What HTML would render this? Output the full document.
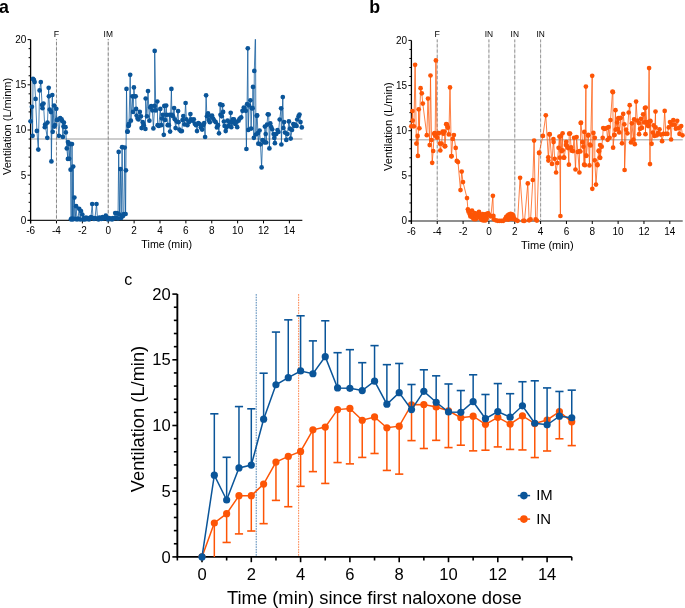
<!DOCTYPE html>
<html><head><meta charset="utf-8"><style>
html,body{margin:0;padding:0;background:#fff;width:685px;height:608px;overflow:hidden}
svg{display:block;will-change:transform}
</style></head><body>
<svg width="685" height="608" viewBox="0 0 685 608" font-family='"Liberation Sans", sans-serif' fill="#000">
<rect width="685" height="608" fill="#fff"/>
<text transform="translate(-1.1,13) scale(1,1.04)" font-size="17.8" font-weight="bold">a</text>
<text transform="translate(369.2,13) scale(1,1.04)" font-size="17.8" font-weight="bold">b</text>
<text transform="translate(124.2,284.6) scale(1,1.04)" font-size="16">c</text>
<g>
<line x1="30.6" y1="139.04" x2="302.34" y2="139.04" stroke="#bdbdbd" stroke-width="1.4"/>
<line x1="27.6" y1="220.4" x2="302.34" y2="220.4" stroke="#222" stroke-width="1.4"/>
<line x1="30.6" y1="39.6" x2="30.6" y2="223.4" stroke="#000" stroke-width="1.3"/>
<line x1="27.6" y1="220.4" x2="30.6" y2="220.4" stroke="#000" stroke-width="1"/>
<line x1="28.6" y1="211.36" x2="30.6" y2="211.36" stroke="#000" stroke-width="1"/>
<line x1="28.6" y1="202.32" x2="30.6" y2="202.32" stroke="#000" stroke-width="1"/>
<line x1="28.6" y1="193.28" x2="30.6" y2="193.28" stroke="#000" stroke-width="1"/>
<line x1="28.6" y1="184.24" x2="30.6" y2="184.24" stroke="#000" stroke-width="1"/>
<line x1="27.6" y1="175.2" x2="30.6" y2="175.2" stroke="#000" stroke-width="1"/>
<line x1="28.6" y1="166.16" x2="30.6" y2="166.16" stroke="#000" stroke-width="1"/>
<line x1="28.6" y1="157.12" x2="30.6" y2="157.12" stroke="#000" stroke-width="1"/>
<line x1="28.6" y1="148.08" x2="30.6" y2="148.08" stroke="#000" stroke-width="1"/>
<line x1="28.6" y1="139.04" x2="30.6" y2="139.04" stroke="#000" stroke-width="1"/>
<line x1="27.6" y1="130" x2="30.6" y2="130" stroke="#000" stroke-width="1"/>
<line x1="28.6" y1="120.96" x2="30.6" y2="120.96" stroke="#000" stroke-width="1"/>
<line x1="28.6" y1="111.92" x2="30.6" y2="111.92" stroke="#000" stroke-width="1"/>
<line x1="28.6" y1="102.88" x2="30.6" y2="102.88" stroke="#000" stroke-width="1"/>
<line x1="28.6" y1="93.84" x2="30.6" y2="93.84" stroke="#000" stroke-width="1"/>
<line x1="27.6" y1="84.8" x2="30.6" y2="84.8" stroke="#000" stroke-width="1"/>
<line x1="28.6" y1="75.76" x2="30.6" y2="75.76" stroke="#000" stroke-width="1"/>
<line x1="28.6" y1="66.72" x2="30.6" y2="66.72" stroke="#000" stroke-width="1"/>
<line x1="28.6" y1="57.68" x2="30.6" y2="57.68" stroke="#000" stroke-width="1"/>
<line x1="28.6" y1="48.64" x2="30.6" y2="48.64" stroke="#000" stroke-width="1"/>
<line x1="27.6" y1="39.6" x2="30.6" y2="39.6" stroke="#000" stroke-width="1"/>
<text transform="translate(26.3,223.8) scale(1,1.04)" text-anchor="end" font-size="10">0</text>
<text transform="translate(26.3,178.6) scale(1,1.04)" text-anchor="end" font-size="10">5</text>
<text transform="translate(26.3,133.4) scale(1,1.04)" text-anchor="end" font-size="10">10</text>
<text transform="translate(26.3,88.2) scale(1,1.04)" text-anchor="end" font-size="10">15</text>
<text transform="translate(26.3,43) scale(1,1.04)" text-anchor="end" font-size="10">20</text>
<line x1="30.6" y1="220.4" x2="30.6" y2="223.4" stroke="#000" stroke-width="1"/>
<text transform="translate(30.6,234) scale(1,1.04)" text-anchor="middle" font-size="10">-6</text>
<line x1="56.48" y1="220.4" x2="56.48" y2="223.4" stroke="#000" stroke-width="1"/>
<text transform="translate(56.48,234) scale(1,1.04)" text-anchor="middle" font-size="10">-4</text>
<line x1="82.36" y1="220.4" x2="82.36" y2="223.4" stroke="#000" stroke-width="1"/>
<text transform="translate(82.36,234) scale(1,1.04)" text-anchor="middle" font-size="10">-2</text>
<line x1="108.24" y1="220.4" x2="108.24" y2="223.4" stroke="#000" stroke-width="1"/>
<text transform="translate(108.24,234) scale(1,1.04)" text-anchor="middle" font-size="10">0</text>
<line x1="134.12" y1="220.4" x2="134.12" y2="223.4" stroke="#000" stroke-width="1"/>
<text transform="translate(134.12,234) scale(1,1.04)" text-anchor="middle" font-size="10">2</text>
<line x1="160" y1="220.4" x2="160" y2="223.4" stroke="#000" stroke-width="1"/>
<text transform="translate(160,234) scale(1,1.04)" text-anchor="middle" font-size="10">4</text>
<line x1="185.88" y1="220.4" x2="185.88" y2="223.4" stroke="#000" stroke-width="1"/>
<text transform="translate(185.88,234) scale(1,1.04)" text-anchor="middle" font-size="10">6</text>
<line x1="211.76" y1="220.4" x2="211.76" y2="223.4" stroke="#000" stroke-width="1"/>
<text transform="translate(211.76,234) scale(1,1.04)" text-anchor="middle" font-size="10">8</text>
<line x1="237.64" y1="220.4" x2="237.64" y2="223.4" stroke="#000" stroke-width="1"/>
<text transform="translate(237.64,234) scale(1,1.04)" text-anchor="middle" font-size="10">10</text>
<line x1="263.52" y1="220.4" x2="263.52" y2="223.4" stroke="#000" stroke-width="1"/>
<text transform="translate(263.52,234) scale(1,1.04)" text-anchor="middle" font-size="10">12</text>
<line x1="289.4" y1="220.4" x2="289.4" y2="223.4" stroke="#000" stroke-width="1"/>
<text transform="translate(289.4,234) scale(1,1.04)" text-anchor="middle" font-size="10">14</text>
<line x1="56.48" y1="39" x2="56.48" y2="220.4" stroke="#dadada" stroke-width="1"/>
<line x1="56.48" y1="39" x2="56.48" y2="220.4" stroke="#8a8a8a" stroke-width="1" stroke-dasharray="3.2,2.05" stroke-dashoffset="2.2"/>
<text transform="translate(56.48,37.4) scale(1,1.04)" text-anchor="middle" font-size="8.8">F</text>
<line x1="108.24" y1="39" x2="108.24" y2="220.4" stroke="#dadada" stroke-width="1"/>
<line x1="108.24" y1="39" x2="108.24" y2="220.4" stroke="#8a8a8a" stroke-width="1" stroke-dasharray="3.2,2.05" stroke-dashoffset="2.2"/>
<text transform="translate(108.24,37) scale(1,1.04)" text-anchor="middle" font-size="8.4">IM</text>
<text transform="translate(166.7,248) scale(1,1.04)" text-anchor="middle" font-size="10.7">Time (min)</text>
<text transform="translate(10.6,126.5) rotate(-90) scale(1,1.04)" text-anchor="middle" font-size="11">Ventilation (L/minm)</text>
<clipPath id="ca"><rect x="0" y="39.2" width="340" height="200"/></clipPath>
<polyline clip-path="url(#ca)" points="30.6,121.3 31.9,106.8 32.6,135.8 33,78.9 33.9,79.9 34.6,82.1 35.6,98.9 36.9,130.9 38.3,149.6 39.6,90.4 40.8,82.1 42.1,104.9 42.5,108.2 43.5,103.6 44.8,127.2 45.1,124.6 47.3,137.8 47.5,122.6 48.7,87.8 48.9,96.3 49.7,109.5 51,112.1 51.4,161.4 52.3,95 52.7,131.8 54.1,105.5 54.3,126.6 55,125 56.3,108.8 56.9,120 57.8,119.7 58.9,135.8 60.2,118 61.6,119.3 62.2,121 62.9,136.9 63.5,126.6 63.9,122.6 64.6,126.9 65.5,127.2 65.8,132.4 66.8,148.4 67.9,158.9 68,142.1 68.9,144.1 69.2,158.8 70.4,143.9 70.6,169.7 70.9,219.3 71.6,218.6 72,144.1 72.6,219.5 73.2,166.6 73.8,218.8 74.4,197.6 75.2,219 76.1,206.2 77,219.5 78,218.5 79.2,208.8 80.2,219.5 81,211 82.3,214.5 83.2,219.5 84,218 85,219.5 86,217.5 87,219 88,218 89,219.5 90,218.5 91,217 92.2,204 93,218 94,219 95,218 96.5,204 97.5,218.5 98.5,219.5 99.5,217.5 100.5,218.5 101.5,219 102.5,217 103.5,218.5 104.5,217.5 105.8,215.7 107,218.5 108,219.5 109,218 110,219 111,218.5 112,219.5 113,218 114,218.5 115.2,213.1 116,218 117,213.1 118,218.5 118.7,151.9 119.5,214.5 120.4,169.1 121.2,218 122.1,147.2 123,216 123.9,214 124.7,147.6 125.6,214 125.9,170.3 126.5,88.9 127.3,131.7 127.7,131.6 128.5,126 128.7,125.2 129,123.8 130.2,74.8 130.9,120.7 132.4,96.3 133.1,111.9 133.9,87.4 134.6,96.3 135.7,96.3 136.1,108.9 136.6,115.6 137.6,118.5 138.5,119.5 139.8,111.9 141,116.3 141.6,128.1 142.8,122.2 143.8,125.2 145.4,128.9 145.7,98.5 146.9,116.3 148,91.1 149.4,120.7 150.2,107.4 151.2,106 152.4,110.4 153.4,128.4 154.6,105.9 154.7,50.9 155.8,110.4 157.3,101.5 157.6,125.2 158.8,125.9 160.3,108.9 161.2,125.2 162,118.5 162.9,114.8 163.8,134.8 164.3,105.9 165.2,120 166.2,105.6 166.7,114.8 167.7,125.2 168.9,125.2 169.6,114.8 170.1,131.6 171.4,88.9 171.9,114.8 173,116.3 174.1,108.1 174.8,119.3 175.6,128.1 176.6,121.5 178.1,111.1 178.5,122.2 179.3,129.6 180.7,131.1 181.9,131.1 182.5,120 183.3,116 184.4,124.4 185.6,103 186.4,119.3 187.4,125.2 188.9,122.2 190.4,114.1 191.1,119.3 192.3,120.7 193.8,119.3 194.8,123.7 196,125.2 197,131.1 198.4,123 199.7,124 200.9,127.4 202.1,129.6 203.1,125.2 204.2,123 205.1,137 206.1,95.3 206.9,116.3 208,113.3 208.6,120 209.8,122.2 211,116.3 212,115.6 213.1,118.5 214.3,120.7 215.7,122.2 216.9,127.4 218,125.2 219,133.3 220.2,104.4 220.5,114.8 221.7,116.3 222.4,105.2 223.1,111.9 223.9,121.5 224.6,125.9 225.7,131.1 226.4,127.4 227.6,120.7 228.8,125.9 229.8,122.2 230.7,112.8 231.3,127.2 232,122.6 232.8,119.3 233.9,119.3 235.2,124 236.2,122 237.2,127.2 238.6,120.7 239.7,118.5 241.2,117.4 242.5,110.8 243.8,107.5 244.5,108 245.8,110.8 246.4,149 247.1,104.2 247.8,48.3 248.3,129.9 249.1,105.5 250.4,100.3 251.1,128.6 251.8,108.3 252.6,108.2 253,86.9 253.9,137.8 254.3,70.9 255.5,30 255.9,134.5 256.7,115.7 257.2,115.4 257.9,133.2 258.3,143.7 259.6,130.5 260.5,144.3 261.6,167.4 262.6,140 263.6,141.1 264.5,142.4 264.9,126.6 265.7,134 266.2,142.5 267,124.7 267.8,114.3 268.7,114.5 269.4,148.4 270.3,123.4 271.2,127 272.2,129.3 273.6,134 274.3,137.9 274.9,143.2 276.2,134 277.5,130 278.5,132 279.7,119.5 281.1,108.3 281.4,144.5 282.8,97.1 283.4,128 284.1,122.1 285,132.6 286.3,139.9 287.4,134 288.9,121.4 290,128.7 290.7,138.6 292,130 293.3,124.1 294.3,126 295.3,124.7 296.6,126 297.2,119.5 298.6,116.2 299.5,114.5 300.5,122.1 301.8,127.4" fill="none" stroke="#0a5599" stroke-width="0.75" stroke-linejoin="round"/>
<g clip-path="url(#ca)" fill="#0a5599"><circle cx="30.6" cy="121.3" r="2.35"/><circle cx="31.9" cy="106.8" r="2.35"/><circle cx="32.6" cy="135.8" r="2.35"/><circle cx="33" cy="78.9" r="2.35"/><circle cx="33.9" cy="79.9" r="2.35"/><circle cx="34.6" cy="82.1" r="2.35"/><circle cx="35.6" cy="98.9" r="2.35"/><circle cx="36.9" cy="130.9" r="2.35"/><circle cx="38.3" cy="149.6" r="2.35"/><circle cx="39.6" cy="90.4" r="2.35"/><circle cx="40.8" cy="82.1" r="2.35"/><circle cx="42.1" cy="104.9" r="2.35"/><circle cx="42.5" cy="108.2" r="2.35"/><circle cx="43.5" cy="103.6" r="2.35"/><circle cx="44.8" cy="127.2" r="2.35"/><circle cx="45.1" cy="124.6" r="2.35"/><circle cx="47.3" cy="137.8" r="2.35"/><circle cx="47.5" cy="122.6" r="2.35"/><circle cx="48.7" cy="87.8" r="2.35"/><circle cx="48.9" cy="96.3" r="2.35"/><circle cx="49.7" cy="109.5" r="2.35"/><circle cx="51" cy="112.1" r="2.35"/><circle cx="51.4" cy="161.4" r="2.35"/><circle cx="52.3" cy="95" r="2.35"/><circle cx="52.7" cy="131.8" r="2.35"/><circle cx="54.1" cy="105.5" r="2.35"/><circle cx="54.3" cy="126.6" r="2.35"/><circle cx="55" cy="125" r="2.35"/><circle cx="56.3" cy="108.8" r="2.35"/><circle cx="56.9" cy="120" r="2.35"/><circle cx="57.8" cy="119.7" r="2.35"/><circle cx="58.9" cy="135.8" r="2.35"/><circle cx="60.2" cy="118" r="2.35"/><circle cx="61.6" cy="119.3" r="2.35"/><circle cx="62.2" cy="121" r="2.35"/><circle cx="62.9" cy="136.9" r="2.35"/><circle cx="63.5" cy="126.6" r="2.35"/><circle cx="63.9" cy="122.6" r="2.35"/><circle cx="64.6" cy="126.9" r="2.35"/><circle cx="65.5" cy="127.2" r="2.35"/><circle cx="65.8" cy="132.4" r="2.35"/><circle cx="66.8" cy="148.4" r="2.35"/><circle cx="67.9" cy="158.9" r="2.35"/><circle cx="68" cy="142.1" r="2.35"/><circle cx="68.9" cy="144.1" r="2.35"/><circle cx="69.2" cy="158.8" r="2.35"/><circle cx="70.4" cy="143.9" r="2.35"/><circle cx="70.6" cy="169.7" r="2.35"/><circle cx="70.9" cy="219.3" r="2.35"/><circle cx="71.6" cy="218.6" r="2.35"/><circle cx="72" cy="144.1" r="2.35"/><circle cx="72.6" cy="219.5" r="2.35"/><circle cx="73.2" cy="166.6" r="2.35"/><circle cx="73.8" cy="218.8" r="2.35"/><circle cx="74.4" cy="197.6" r="2.35"/><circle cx="75.2" cy="219" r="2.35"/><circle cx="76.1" cy="206.2" r="2.35"/><circle cx="77" cy="219.5" r="2.35"/><circle cx="78" cy="218.5" r="2.35"/><circle cx="79.2" cy="208.8" r="2.35"/><circle cx="80.2" cy="219.5" r="2.35"/><circle cx="81" cy="211" r="2.35"/><circle cx="82.3" cy="214.5" r="2.35"/><circle cx="83.2" cy="219.5" r="2.35"/><circle cx="84" cy="218" r="2.35"/><circle cx="85" cy="219.5" r="2.35"/><circle cx="86" cy="217.5" r="2.35"/><circle cx="87" cy="219" r="2.35"/><circle cx="88" cy="218" r="2.35"/><circle cx="89" cy="219.5" r="2.35"/><circle cx="90" cy="218.5" r="2.35"/><circle cx="91" cy="217" r="2.35"/><circle cx="92.2" cy="204" r="2.35"/><circle cx="93" cy="218" r="2.35"/><circle cx="94" cy="219" r="2.35"/><circle cx="95" cy="218" r="2.35"/><circle cx="96.5" cy="204" r="2.35"/><circle cx="97.5" cy="218.5" r="2.35"/><circle cx="98.5" cy="219.5" r="2.35"/><circle cx="99.5" cy="217.5" r="2.35"/><circle cx="100.5" cy="218.5" r="2.35"/><circle cx="101.5" cy="219" r="2.35"/><circle cx="102.5" cy="217" r="2.35"/><circle cx="103.5" cy="218.5" r="2.35"/><circle cx="104.5" cy="217.5" r="2.35"/><circle cx="105.8" cy="215.7" r="2.35"/><circle cx="107" cy="218.5" r="2.35"/><circle cx="108" cy="219.5" r="2.35"/><circle cx="109" cy="218" r="2.35"/><circle cx="110" cy="219" r="2.35"/><circle cx="111" cy="218.5" r="2.35"/><circle cx="112" cy="219.5" r="2.35"/><circle cx="113" cy="218" r="2.35"/><circle cx="114" cy="218.5" r="2.35"/><circle cx="115.2" cy="213.1" r="2.35"/><circle cx="116" cy="218" r="2.35"/><circle cx="117" cy="213.1" r="2.35"/><circle cx="118" cy="218.5" r="2.35"/><circle cx="118.7" cy="151.9" r="2.35"/><circle cx="119.5" cy="214.5" r="2.35"/><circle cx="120.4" cy="169.1" r="2.35"/><circle cx="121.2" cy="218" r="2.35"/><circle cx="122.1" cy="147.2" r="2.35"/><circle cx="123" cy="216" r="2.35"/><circle cx="123.9" cy="214" r="2.35"/><circle cx="124.7" cy="147.6" r="2.35"/><circle cx="125.6" cy="214" r="2.35"/><circle cx="125.9" cy="170.3" r="2.35"/><circle cx="126.5" cy="88.9" r="2.35"/><circle cx="127.3" cy="131.7" r="2.35"/><circle cx="127.7" cy="131.6" r="2.35"/><circle cx="128.5" cy="126" r="2.35"/><circle cx="128.7" cy="125.2" r="2.35"/><circle cx="129" cy="123.8" r="2.35"/><circle cx="130.2" cy="74.8" r="2.35"/><circle cx="130.9" cy="120.7" r="2.35"/><circle cx="132.4" cy="96.3" r="2.35"/><circle cx="133.1" cy="111.9" r="2.35"/><circle cx="133.9" cy="87.4" r="2.35"/><circle cx="134.6" cy="96.3" r="2.35"/><circle cx="135.7" cy="96.3" r="2.35"/><circle cx="136.1" cy="108.9" r="2.35"/><circle cx="136.6" cy="115.6" r="2.35"/><circle cx="137.6" cy="118.5" r="2.35"/><circle cx="138.5" cy="119.5" r="2.35"/><circle cx="139.8" cy="111.9" r="2.35"/><circle cx="141" cy="116.3" r="2.35"/><circle cx="141.6" cy="128.1" r="2.35"/><circle cx="142.8" cy="122.2" r="2.35"/><circle cx="143.8" cy="125.2" r="2.35"/><circle cx="145.4" cy="128.9" r="2.35"/><circle cx="145.7" cy="98.5" r="2.35"/><circle cx="146.9" cy="116.3" r="2.35"/><circle cx="148" cy="91.1" r="2.35"/><circle cx="149.4" cy="120.7" r="2.35"/><circle cx="150.2" cy="107.4" r="2.35"/><circle cx="151.2" cy="106" r="2.35"/><circle cx="152.4" cy="110.4" r="2.35"/><circle cx="153.4" cy="128.4" r="2.35"/><circle cx="154.6" cy="105.9" r="2.35"/><circle cx="154.7" cy="50.9" r="2.35"/><circle cx="155.8" cy="110.4" r="2.35"/><circle cx="157.3" cy="101.5" r="2.35"/><circle cx="157.6" cy="125.2" r="2.35"/><circle cx="158.8" cy="125.9" r="2.35"/><circle cx="160.3" cy="108.9" r="2.35"/><circle cx="161.2" cy="125.2" r="2.35"/><circle cx="162" cy="118.5" r="2.35"/><circle cx="162.9" cy="114.8" r="2.35"/><circle cx="163.8" cy="134.8" r="2.35"/><circle cx="164.3" cy="105.9" r="2.35"/><circle cx="165.2" cy="120" r="2.35"/><circle cx="166.2" cy="105.6" r="2.35"/><circle cx="166.7" cy="114.8" r="2.35"/><circle cx="167.7" cy="125.2" r="2.35"/><circle cx="168.9" cy="125.2" r="2.35"/><circle cx="169.6" cy="114.8" r="2.35"/><circle cx="170.1" cy="131.6" r="2.35"/><circle cx="171.4" cy="88.9" r="2.35"/><circle cx="171.9" cy="114.8" r="2.35"/><circle cx="173" cy="116.3" r="2.35"/><circle cx="174.1" cy="108.1" r="2.35"/><circle cx="174.8" cy="119.3" r="2.35"/><circle cx="175.6" cy="128.1" r="2.35"/><circle cx="176.6" cy="121.5" r="2.35"/><circle cx="178.1" cy="111.1" r="2.35"/><circle cx="178.5" cy="122.2" r="2.35"/><circle cx="179.3" cy="129.6" r="2.35"/><circle cx="180.7" cy="131.1" r="2.35"/><circle cx="181.9" cy="131.1" r="2.35"/><circle cx="182.5" cy="120" r="2.35"/><circle cx="183.3" cy="116" r="2.35"/><circle cx="184.4" cy="124.4" r="2.35"/><circle cx="185.6" cy="103" r="2.35"/><circle cx="186.4" cy="119.3" r="2.35"/><circle cx="187.4" cy="125.2" r="2.35"/><circle cx="188.9" cy="122.2" r="2.35"/><circle cx="190.4" cy="114.1" r="2.35"/><circle cx="191.1" cy="119.3" r="2.35"/><circle cx="192.3" cy="120.7" r="2.35"/><circle cx="193.8" cy="119.3" r="2.35"/><circle cx="194.8" cy="123.7" r="2.35"/><circle cx="196" cy="125.2" r="2.35"/><circle cx="197" cy="131.1" r="2.35"/><circle cx="198.4" cy="123" r="2.35"/><circle cx="199.7" cy="124" r="2.35"/><circle cx="200.9" cy="127.4" r="2.35"/><circle cx="202.1" cy="129.6" r="2.35"/><circle cx="203.1" cy="125.2" r="2.35"/><circle cx="204.2" cy="123" r="2.35"/><circle cx="205.1" cy="137" r="2.35"/><circle cx="206.1" cy="95.3" r="2.35"/><circle cx="206.9" cy="116.3" r="2.35"/><circle cx="208" cy="113.3" r="2.35"/><circle cx="208.6" cy="120" r="2.35"/><circle cx="209.8" cy="122.2" r="2.35"/><circle cx="211" cy="116.3" r="2.35"/><circle cx="212" cy="115.6" r="2.35"/><circle cx="213.1" cy="118.5" r="2.35"/><circle cx="214.3" cy="120.7" r="2.35"/><circle cx="215.7" cy="122.2" r="2.35"/><circle cx="216.9" cy="127.4" r="2.35"/><circle cx="218" cy="125.2" r="2.35"/><circle cx="219" cy="133.3" r="2.35"/><circle cx="220.2" cy="104.4" r="2.35"/><circle cx="220.5" cy="114.8" r="2.35"/><circle cx="221.7" cy="116.3" r="2.35"/><circle cx="222.4" cy="105.2" r="2.35"/><circle cx="223.1" cy="111.9" r="2.35"/><circle cx="223.9" cy="121.5" r="2.35"/><circle cx="224.6" cy="125.9" r="2.35"/><circle cx="225.7" cy="131.1" r="2.35"/><circle cx="226.4" cy="127.4" r="2.35"/><circle cx="227.6" cy="120.7" r="2.35"/><circle cx="228.8" cy="125.9" r="2.35"/><circle cx="229.8" cy="122.2" r="2.35"/><circle cx="230.7" cy="112.8" r="2.35"/><circle cx="231.3" cy="127.2" r="2.35"/><circle cx="232" cy="122.6" r="2.35"/><circle cx="232.8" cy="119.3" r="2.35"/><circle cx="233.9" cy="119.3" r="2.35"/><circle cx="235.2" cy="124" r="2.35"/><circle cx="236.2" cy="122" r="2.35"/><circle cx="237.2" cy="127.2" r="2.35"/><circle cx="238.6" cy="120.7" r="2.35"/><circle cx="239.7" cy="118.5" r="2.35"/><circle cx="241.2" cy="117.4" r="2.35"/><circle cx="242.5" cy="110.8" r="2.35"/><circle cx="243.8" cy="107.5" r="2.35"/><circle cx="244.5" cy="108" r="2.35"/><circle cx="245.8" cy="110.8" r="2.35"/><circle cx="246.4" cy="149" r="2.35"/><circle cx="247.1" cy="104.2" r="2.35"/><circle cx="247.8" cy="48.3" r="2.35"/><circle cx="248.3" cy="129.9" r="2.35"/><circle cx="249.1" cy="105.5" r="2.35"/><circle cx="250.4" cy="100.3" r="2.35"/><circle cx="251.1" cy="128.6" r="2.35"/><circle cx="251.8" cy="108.3" r="2.35"/><circle cx="252.6" cy="108.2" r="2.35"/><circle cx="253" cy="86.9" r="2.35"/><circle cx="253.9" cy="137.8" r="2.35"/><circle cx="254.3" cy="70.9" r="2.35"/><circle cx="255.5" cy="30" r="2.35"/><circle cx="255.9" cy="134.5" r="2.35"/><circle cx="256.7" cy="115.7" r="2.35"/><circle cx="257.2" cy="115.4" r="2.35"/><circle cx="257.9" cy="133.2" r="2.35"/><circle cx="258.3" cy="143.7" r="2.35"/><circle cx="259.6" cy="130.5" r="2.35"/><circle cx="260.5" cy="144.3" r="2.35"/><circle cx="261.6" cy="167.4" r="2.35"/><circle cx="262.6" cy="140" r="2.35"/><circle cx="263.6" cy="141.1" r="2.35"/><circle cx="264.5" cy="142.4" r="2.35"/><circle cx="264.9" cy="126.6" r="2.35"/><circle cx="265.7" cy="134" r="2.35"/><circle cx="266.2" cy="142.5" r="2.35"/><circle cx="267" cy="124.7" r="2.35"/><circle cx="267.8" cy="114.3" r="2.35"/><circle cx="268.7" cy="114.5" r="2.35"/><circle cx="269.4" cy="148.4" r="2.35"/><circle cx="270.3" cy="123.4" r="2.35"/><circle cx="271.2" cy="127" r="2.35"/><circle cx="272.2" cy="129.3" r="2.35"/><circle cx="273.6" cy="134" r="2.35"/><circle cx="274.3" cy="137.9" r="2.35"/><circle cx="274.9" cy="143.2" r="2.35"/><circle cx="276.2" cy="134" r="2.35"/><circle cx="277.5" cy="130" r="2.35"/><circle cx="278.5" cy="132" r="2.35"/><circle cx="279.7" cy="119.5" r="2.35"/><circle cx="281.1" cy="108.3" r="2.35"/><circle cx="281.4" cy="144.5" r="2.35"/><circle cx="282.8" cy="97.1" r="2.35"/><circle cx="283.4" cy="128" r="2.35"/><circle cx="284.1" cy="122.1" r="2.35"/><circle cx="285" cy="132.6" r="2.35"/><circle cx="286.3" cy="139.9" r="2.35"/><circle cx="287.4" cy="134" r="2.35"/><circle cx="288.9" cy="121.4" r="2.35"/><circle cx="290" cy="128.7" r="2.35"/><circle cx="290.7" cy="138.6" r="2.35"/><circle cx="292" cy="130" r="2.35"/><circle cx="293.3" cy="124.1" r="2.35"/><circle cx="294.3" cy="126" r="2.35"/><circle cx="295.3" cy="124.7" r="2.35"/><circle cx="296.6" cy="126" r="2.35"/><circle cx="297.2" cy="119.5" r="2.35"/><circle cx="298.6" cy="116.2" r="2.35"/><circle cx="299.5" cy="114.5" r="2.35"/><circle cx="300.5" cy="122.1" r="2.35"/><circle cx="301.8" cy="127.4" r="2.35"/></g>
</g>
<g>
<line x1="411.4" y1="139.73" x2="682.72" y2="139.73" stroke="#bdbdbd" stroke-width="1.4"/>
<line x1="408.4" y1="221" x2="682.72" y2="221" stroke="#6a6a6a" stroke-width="1.4"/>
<line x1="411.4" y1="40.4" x2="411.4" y2="224" stroke="#000" stroke-width="1.3"/>
<line x1="408.4" y1="221" x2="411.4" y2="221" stroke="#000" stroke-width="1"/>
<line x1="409.4" y1="211.97" x2="411.4" y2="211.97" stroke="#000" stroke-width="1"/>
<line x1="409.4" y1="202.94" x2="411.4" y2="202.94" stroke="#000" stroke-width="1"/>
<line x1="409.4" y1="193.91" x2="411.4" y2="193.91" stroke="#000" stroke-width="1"/>
<line x1="409.4" y1="184.88" x2="411.4" y2="184.88" stroke="#000" stroke-width="1"/>
<line x1="408.4" y1="175.85" x2="411.4" y2="175.85" stroke="#000" stroke-width="1"/>
<line x1="409.4" y1="166.82" x2="411.4" y2="166.82" stroke="#000" stroke-width="1"/>
<line x1="409.4" y1="157.79" x2="411.4" y2="157.79" stroke="#000" stroke-width="1"/>
<line x1="409.4" y1="148.76" x2="411.4" y2="148.76" stroke="#000" stroke-width="1"/>
<line x1="409.4" y1="139.73" x2="411.4" y2="139.73" stroke="#000" stroke-width="1"/>
<line x1="408.4" y1="130.7" x2="411.4" y2="130.7" stroke="#000" stroke-width="1"/>
<line x1="409.4" y1="121.67" x2="411.4" y2="121.67" stroke="#000" stroke-width="1"/>
<line x1="409.4" y1="112.64" x2="411.4" y2="112.64" stroke="#000" stroke-width="1"/>
<line x1="409.4" y1="103.61" x2="411.4" y2="103.61" stroke="#000" stroke-width="1"/>
<line x1="409.4" y1="94.58" x2="411.4" y2="94.58" stroke="#000" stroke-width="1"/>
<line x1="408.4" y1="85.55" x2="411.4" y2="85.55" stroke="#000" stroke-width="1"/>
<line x1="409.4" y1="76.52" x2="411.4" y2="76.52" stroke="#000" stroke-width="1"/>
<line x1="409.4" y1="67.49" x2="411.4" y2="67.49" stroke="#000" stroke-width="1"/>
<line x1="409.4" y1="58.46" x2="411.4" y2="58.46" stroke="#000" stroke-width="1"/>
<line x1="409.4" y1="49.43" x2="411.4" y2="49.43" stroke="#000" stroke-width="1"/>
<line x1="408.4" y1="40.4" x2="411.4" y2="40.4" stroke="#000" stroke-width="1"/>
<text transform="translate(407.1,224.4) scale(1,1.04)" text-anchor="end" font-size="10">0</text>
<text transform="translate(407.1,179.25) scale(1,1.04)" text-anchor="end" font-size="10">5</text>
<text transform="translate(407.1,134.1) scale(1,1.04)" text-anchor="end" font-size="10">10</text>
<text transform="translate(407.1,88.95) scale(1,1.04)" text-anchor="end" font-size="10">15</text>
<text transform="translate(407.1,43.8) scale(1,1.04)" text-anchor="end" font-size="10">20</text>
<line x1="411.4" y1="221" x2="411.4" y2="224" stroke="#000" stroke-width="1"/>
<text transform="translate(411.4,234.6) scale(1,1.04)" text-anchor="middle" font-size="10">-6</text>
<line x1="437.24" y1="221" x2="437.24" y2="224" stroke="#000" stroke-width="1"/>
<text transform="translate(437.24,234.6) scale(1,1.04)" text-anchor="middle" font-size="10">-4</text>
<line x1="463.08" y1="221" x2="463.08" y2="224" stroke="#000" stroke-width="1"/>
<text transform="translate(463.08,234.6) scale(1,1.04)" text-anchor="middle" font-size="10">-2</text>
<line x1="488.92" y1="221" x2="488.92" y2="224" stroke="#000" stroke-width="1"/>
<text transform="translate(488.92,234.6) scale(1,1.04)" text-anchor="middle" font-size="10">0</text>
<line x1="514.76" y1="221" x2="514.76" y2="224" stroke="#000" stroke-width="1"/>
<text transform="translate(514.76,234.6) scale(1,1.04)" text-anchor="middle" font-size="10">2</text>
<line x1="540.6" y1="221" x2="540.6" y2="224" stroke="#000" stroke-width="1"/>
<text transform="translate(540.6,234.6) scale(1,1.04)" text-anchor="middle" font-size="10">4</text>
<line x1="566.44" y1="221" x2="566.44" y2="224" stroke="#000" stroke-width="1"/>
<text transform="translate(566.44,234.6) scale(1,1.04)" text-anchor="middle" font-size="10">6</text>
<line x1="592.28" y1="221" x2="592.28" y2="224" stroke="#000" stroke-width="1"/>
<text transform="translate(592.28,234.6) scale(1,1.04)" text-anchor="middle" font-size="10">8</text>
<line x1="618.12" y1="221" x2="618.12" y2="224" stroke="#000" stroke-width="1"/>
<text transform="translate(618.12,234.6) scale(1,1.04)" text-anchor="middle" font-size="10">10</text>
<line x1="643.96" y1="221" x2="643.96" y2="224" stroke="#000" stroke-width="1"/>
<text transform="translate(643.96,234.6) scale(1,1.04)" text-anchor="middle" font-size="10">12</text>
<line x1="669.8" y1="221" x2="669.8" y2="224" stroke="#000" stroke-width="1"/>
<text transform="translate(669.8,234.6) scale(1,1.04)" text-anchor="middle" font-size="10">14</text>
<line x1="437.24" y1="39.5" x2="437.24" y2="221" stroke="#dadada" stroke-width="1"/>
<line x1="437.24" y1="39.5" x2="437.24" y2="221" stroke="#999" stroke-width="1" stroke-dasharray="3.2,2.1" stroke-dashoffset="0.6"/>
<text transform="translate(437.24,37.4) scale(1,1.04)" text-anchor="middle" font-size="8.8">F</text>
<line x1="488.92" y1="39.5" x2="488.92" y2="221" stroke="#dadada" stroke-width="1"/>
<line x1="488.92" y1="39.5" x2="488.92" y2="221" stroke="#999" stroke-width="1" stroke-dasharray="3.2,2.1" stroke-dashoffset="0.6"/>
<text transform="translate(488.92,37) scale(1,1.04)" text-anchor="middle" font-size="8.4">IN</text>
<line x1="514.76" y1="39.5" x2="514.76" y2="221" stroke="#dadada" stroke-width="1"/>
<line x1="514.76" y1="39.5" x2="514.76" y2="221" stroke="#999" stroke-width="1" stroke-dasharray="3.2,2.1" stroke-dashoffset="0.6"/>
<text transform="translate(514.76,37) scale(1,1.04)" text-anchor="middle" font-size="8.4">IN</text>
<line x1="540.6" y1="39.5" x2="540.6" y2="221" stroke="#dadada" stroke-width="1"/>
<line x1="540.6" y1="39.5" x2="540.6" y2="221" stroke="#999" stroke-width="1" stroke-dasharray="3.2,2.1" stroke-dashoffset="0.6"/>
<text transform="translate(540.6,37) scale(1,1.04)" text-anchor="middle" font-size="8.4">IN</text>
<text transform="translate(547.4,249.2) scale(1,1.04)" text-anchor="middle" font-size="11.1">Time (min)</text>
<text transform="translate(391.5,126.6) rotate(-90) scale(1,1.04)" text-anchor="middle" font-size="11.1">Ventilation (L/min)</text>
<clipPath id="cb"><rect x="380" y="40" width="310" height="200"/></clipPath>
<polyline clip-path="url(#cb)" points="411.3,126.3 412.4,111 412.7,120.6 413.9,126.3 415.1,64.8 416.4,143.6 417.6,135.9 417.9,155.9 418.7,109.3 419.4,128.3 420.6,88.2 421.8,93.3 422.8,103.6 426.8,135.2 428,98.6 429.7,145.1 430.5,75.5 431.5,140 432.2,162.8 433.2,151 434.2,133.7 434.7,133.2 435.2,135.7 435.9,60.4 437.1,137.7 438.4,133 438.9,133.2 439.8,143.6 440.3,150.5 441.6,143.6 442.6,131.7 443.3,133.7 444.5,131.6 444.7,146.3 445.2,146.2 446.2,124.2 446.8,124.3 447.5,126.7 447.8,127.7 448.9,134.4 450,87.4 451.4,156.3 451.5,156.2 452.7,139 453.9,135.1 455.7,147.9 456.8,160.9 458,162.1 460.5,190.1 461.7,171.6 463,182.1 467,198.1 467.9,209.3 468.5,211.7 469.2,211.5 469.8,214.2 470.4,216.5 471,215.4 472,210.5 472.2,217.3 473,214.5 473.5,218.5 474.2,219.2 474.7,213 475.9,219.1 476.2,216 477.2,213.6 477.6,217.5 478.4,214.2 479,211.8 480.2,214.8 480.6,218.8 481.5,216.7 482,220 482.7,214.2 483.3,220.4 484,217.8 485.2,220.4 485.6,214 486,219.8 486.6,218.2 487,214.2 488,213.4 488.3,213.6 489.4,215.4 490.9,216.4 492.9,195.8 493.4,215.9 493.9,219.3 495.9,220.3 497.8,220.8 499.8,220.8 501.8,220.8 503.3,220.8 505.2,218.8 506,219.3 506.2,216.9 507.2,217.2 507.7,215.4 508.2,219.6 509.2,214.4 509.3,216.6 510.2,218.8 510.7,213.9 511.3,215.6 512.2,214.4 512.3,219 513.1,215.4 513.4,217.4 514.1,218.3 515.6,219.8 517.6,220.8 520.1,177.8 523.2,220.8 524.5,220.8 527.8,183.4 529.1,220.3 530.6,219.4 532.8,180 534.1,140.6 535.6,219.4 536.9,220.6 539.1,153.1 539.2,152.6 542.9,135.9 545.8,115.3 548.3,157.3 548.4,160.6 549.5,134.2 549.7,134.4 552,163.9 553.4,139 553.6,142.1 554.7,158.8 556.1,172.5 557.3,163 558.6,147.8 559.4,136.6 559.8,157.7 560.4,216 560.7,136.3 561.6,151.1 562.6,133.3 562.7,150.3 563.8,157.7 564.2,157.6 566,144.9 566.2,141.8 566.8,145.8 568.1,148.1 568.9,164.7 569.2,133.7 570.1,133.6 571.1,147.4 571.7,150.7 573,151.1 574.1,137.8 575.5,169.5 576.6,137 577.8,151.9 579.4,172.5 579.6,151.1 580.4,151.5 580.7,123 581,122.7 582.5,142.2 583.4,146.7 584.1,164.7 584.3,131.9 584.9,165.2 585.9,86.6 586.2,155.8 586.4,155.6 588.1,135.6 588.3,134.9 589.5,165.4 589.9,144.7 590.6,145.5 592.2,75.8 592.3,188.8 593.4,132.9 594.8,137.8 594.8,160.3 596,184.6 597.3,164.4 597.4,165.2 598.7,150.6 598.9,151.2 599.7,157.5 600.1,145.1 600.2,157.8 601.7,146.7 602.7,137.8 603.2,128 604.6,129 606.6,128 607.6,139.8 608.6,127 609.6,137.8 610.5,120.1 612.5,91.5 612.9,92.2 613.1,147.7 614.2,135.1 614.5,134.9 615.5,110.2 615.6,129.7 617.1,122.4 617.8,129 618.3,118.8 618.4,118.1 619.2,132.4 620.7,117.9 622,143.3 623.2,113.9 624.3,124.3 624.6,170 626.1,129.7 627.4,133.3 628.7,112.5 629.7,105.2 631,142.4 631.9,123.3 633.4,139.6 634.1,119.4 634.8,144.2 636.1,101.6 637.3,120.6 638.8,123 639.1,134.2 640.1,128.8 641,118.8 641.9,127.9 643.1,114.3 644.2,122.4 644.9,108 645.5,134.2 645.7,107.6 646.8,122.4 647,122.1 648.2,126.1 648.3,125.4 649.1,68.1 650,164.1 650.3,120.8 650.4,121.5 651.6,143.8 652.9,132.6 653.6,125.4 654.5,135.9 655.5,111.6 655.6,127.4 656.8,135.3 658,133 659.5,129.3 660.8,134.6 662.1,141.2 663.4,133.9 664.7,110.9 665.8,133.9 667.4,133.9 668.7,127.4 670,122.1 671.1,139.5 672,124.7 673.3,120.1 674.6,124.7 675.9,128.7 677.2,120.8 678.6,128 679.5,133.9 681.2,126.1 682.5,135.3" fill="none" stroke="#fd5506" stroke-width="0.75" stroke-linejoin="round"/>
<g clip-path="url(#cb)" fill="#fd5506"><circle cx="411.3" cy="126.3" r="2.35"/><circle cx="412.4" cy="111" r="2.35"/><circle cx="412.7" cy="120.6" r="2.35"/><circle cx="413.9" cy="126.3" r="2.35"/><circle cx="415.1" cy="64.8" r="2.35"/><circle cx="416.4" cy="143.6" r="2.35"/><circle cx="417.6" cy="135.9" r="2.35"/><circle cx="417.9" cy="155.9" r="2.35"/><circle cx="418.7" cy="109.3" r="2.35"/><circle cx="419.4" cy="128.3" r="2.35"/><circle cx="420.6" cy="88.2" r="2.35"/><circle cx="421.8" cy="93.3" r="2.35"/><circle cx="422.8" cy="103.6" r="2.35"/><circle cx="426.8" cy="135.2" r="2.35"/><circle cx="428" cy="98.6" r="2.35"/><circle cx="429.7" cy="145.1" r="2.35"/><circle cx="430.5" cy="75.5" r="2.35"/><circle cx="431.5" cy="140" r="2.35"/><circle cx="432.2" cy="162.8" r="2.35"/><circle cx="433.2" cy="151" r="2.35"/><circle cx="434.2" cy="133.7" r="2.35"/><circle cx="434.7" cy="133.2" r="2.35"/><circle cx="435.2" cy="135.7" r="2.35"/><circle cx="435.9" cy="60.4" r="2.35"/><circle cx="437.1" cy="137.7" r="2.35"/><circle cx="438.4" cy="133" r="2.35"/><circle cx="438.9" cy="133.2" r="2.35"/><circle cx="439.8" cy="143.6" r="2.35"/><circle cx="440.3" cy="150.5" r="2.35"/><circle cx="441.6" cy="143.6" r="2.35"/><circle cx="442.6" cy="131.7" r="2.35"/><circle cx="443.3" cy="133.7" r="2.35"/><circle cx="444.5" cy="131.6" r="2.35"/><circle cx="444.7" cy="146.3" r="2.35"/><circle cx="445.2" cy="146.2" r="2.35"/><circle cx="446.2" cy="124.2" r="2.35"/><circle cx="446.8" cy="124.3" r="2.35"/><circle cx="447.5" cy="126.7" r="2.35"/><circle cx="447.8" cy="127.7" r="2.35"/><circle cx="448.9" cy="134.4" r="2.35"/><circle cx="450" cy="87.4" r="2.35"/><circle cx="451.4" cy="156.3" r="2.35"/><circle cx="451.5" cy="156.2" r="2.35"/><circle cx="452.7" cy="139" r="2.35"/><circle cx="453.9" cy="135.1" r="2.35"/><circle cx="455.7" cy="147.9" r="2.35"/><circle cx="456.8" cy="160.9" r="2.35"/><circle cx="458" cy="162.1" r="2.35"/><circle cx="460.5" cy="190.1" r="2.35"/><circle cx="461.7" cy="171.6" r="2.35"/><circle cx="463" cy="182.1" r="2.35"/><circle cx="467" cy="198.1" r="2.35"/><circle cx="467.9" cy="209.3" r="2.35"/><circle cx="468.5" cy="211.7" r="2.35"/><circle cx="469.2" cy="211.5" r="2.35"/><circle cx="469.8" cy="214.2" r="2.35"/><circle cx="470.4" cy="216.5" r="2.35"/><circle cx="471" cy="215.4" r="2.35"/><circle cx="472" cy="210.5" r="2.35"/><circle cx="472.2" cy="217.3" r="2.35"/><circle cx="473" cy="214.5" r="2.35"/><circle cx="473.5" cy="218.5" r="2.35"/><circle cx="474.2" cy="219.2" r="2.35"/><circle cx="474.7" cy="213" r="2.35"/><circle cx="475.9" cy="219.1" r="2.35"/><circle cx="476.2" cy="216" r="2.35"/><circle cx="477.2" cy="213.6" r="2.35"/><circle cx="477.6" cy="217.5" r="2.35"/><circle cx="478.4" cy="214.2" r="2.35"/><circle cx="479" cy="211.8" r="2.35"/><circle cx="480.2" cy="214.8" r="2.35"/><circle cx="480.6" cy="218.8" r="2.35"/><circle cx="481.5" cy="216.7" r="2.35"/><circle cx="482" cy="220" r="2.35"/><circle cx="482.7" cy="214.2" r="2.35"/><circle cx="483.3" cy="220.4" r="2.35"/><circle cx="484" cy="217.8" r="2.35"/><circle cx="485.2" cy="220.4" r="2.35"/><circle cx="485.6" cy="214" r="2.35"/><circle cx="486" cy="219.8" r="2.35"/><circle cx="486.6" cy="218.2" r="2.35"/><circle cx="487" cy="214.2" r="2.35"/><circle cx="488" cy="213.4" r="2.35"/><circle cx="488.3" cy="213.6" r="2.35"/><circle cx="489.4" cy="215.4" r="2.35"/><circle cx="490.9" cy="216.4" r="2.35"/><circle cx="492.9" cy="195.8" r="2.35"/><circle cx="493.4" cy="215.9" r="2.35"/><circle cx="493.9" cy="219.3" r="2.35"/><circle cx="495.9" cy="220.3" r="2.35"/><circle cx="497.8" cy="220.8" r="2.35"/><circle cx="499.8" cy="220.8" r="2.35"/><circle cx="501.8" cy="220.8" r="2.35"/><circle cx="503.3" cy="220.8" r="2.35"/><circle cx="505.2" cy="218.8" r="2.35"/><circle cx="506" cy="219.3" r="2.35"/><circle cx="506.2" cy="216.9" r="2.35"/><circle cx="507.2" cy="217.2" r="2.35"/><circle cx="507.7" cy="215.4" r="2.35"/><circle cx="508.2" cy="219.6" r="2.35"/><circle cx="509.2" cy="214.4" r="2.35"/><circle cx="509.3" cy="216.6" r="2.35"/><circle cx="510.2" cy="218.8" r="2.35"/><circle cx="510.7" cy="213.9" r="2.35"/><circle cx="511.3" cy="215.6" r="2.35"/><circle cx="512.2" cy="214.4" r="2.35"/><circle cx="512.3" cy="219" r="2.35"/><circle cx="513.1" cy="215.4" r="2.35"/><circle cx="513.4" cy="217.4" r="2.35"/><circle cx="514.1" cy="218.3" r="2.35"/><circle cx="515.6" cy="219.8" r="2.35"/><circle cx="517.6" cy="220.8" r="2.35"/><circle cx="520.1" cy="177.8" r="2.35"/><circle cx="523.2" cy="220.8" r="2.35"/><circle cx="524.5" cy="220.8" r="2.35"/><circle cx="527.8" cy="183.4" r="2.35"/><circle cx="529.1" cy="220.3" r="2.35"/><circle cx="530.6" cy="219.4" r="2.35"/><circle cx="532.8" cy="180" r="2.35"/><circle cx="534.1" cy="140.6" r="2.35"/><circle cx="535.6" cy="219.4" r="2.35"/><circle cx="536.9" cy="220.6" r="2.35"/><circle cx="539.1" cy="153.1" r="2.35"/><circle cx="539.2" cy="152.6" r="2.35"/><circle cx="542.9" cy="135.9" r="2.35"/><circle cx="545.8" cy="115.3" r="2.35"/><circle cx="548.3" cy="157.3" r="2.35"/><circle cx="548.4" cy="160.6" r="2.35"/><circle cx="549.5" cy="134.2" r="2.35"/><circle cx="549.7" cy="134.4" r="2.35"/><circle cx="552" cy="163.9" r="2.35"/><circle cx="553.4" cy="139" r="2.35"/><circle cx="553.6" cy="142.1" r="2.35"/><circle cx="554.7" cy="158.8" r="2.35"/><circle cx="556.1" cy="172.5" r="2.35"/><circle cx="557.3" cy="163" r="2.35"/><circle cx="558.6" cy="147.8" r="2.35"/><circle cx="559.4" cy="136.6" r="2.35"/><circle cx="559.8" cy="157.7" r="2.35"/><circle cx="560.4" cy="216" r="2.35"/><circle cx="560.7" cy="136.3" r="2.35"/><circle cx="561.6" cy="151.1" r="2.35"/><circle cx="562.6" cy="133.3" r="2.35"/><circle cx="562.7" cy="150.3" r="2.35"/><circle cx="563.8" cy="157.7" r="2.35"/><circle cx="564.2" cy="157.6" r="2.35"/><circle cx="566" cy="144.9" r="2.35"/><circle cx="566.2" cy="141.8" r="2.35"/><circle cx="566.8" cy="145.8" r="2.35"/><circle cx="568.1" cy="148.1" r="2.35"/><circle cx="568.9" cy="164.7" r="2.35"/><circle cx="569.2" cy="133.7" r="2.35"/><circle cx="570.1" cy="133.6" r="2.35"/><circle cx="571.1" cy="147.4" r="2.35"/><circle cx="571.7" cy="150.7" r="2.35"/><circle cx="573" cy="151.1" r="2.35"/><circle cx="574.1" cy="137.8" r="2.35"/><circle cx="575.5" cy="169.5" r="2.35"/><circle cx="576.6" cy="137" r="2.35"/><circle cx="577.8" cy="151.9" r="2.35"/><circle cx="579.4" cy="172.5" r="2.35"/><circle cx="579.6" cy="151.1" r="2.35"/><circle cx="580.4" cy="151.5" r="2.35"/><circle cx="580.7" cy="123" r="2.35"/><circle cx="581" cy="122.7" r="2.35"/><circle cx="582.5" cy="142.2" r="2.35"/><circle cx="583.4" cy="146.7" r="2.35"/><circle cx="584.1" cy="164.7" r="2.35"/><circle cx="584.3" cy="131.9" r="2.35"/><circle cx="584.9" cy="165.2" r="2.35"/><circle cx="585.9" cy="86.6" r="2.35"/><circle cx="586.2" cy="155.8" r="2.35"/><circle cx="586.4" cy="155.6" r="2.35"/><circle cx="588.1" cy="135.6" r="2.35"/><circle cx="588.3" cy="134.9" r="2.35"/><circle cx="589.5" cy="165.4" r="2.35"/><circle cx="589.9" cy="144.7" r="2.35"/><circle cx="590.6" cy="145.5" r="2.35"/><circle cx="592.2" cy="75.8" r="2.35"/><circle cx="592.3" cy="188.8" r="2.35"/><circle cx="593.4" cy="132.9" r="2.35"/><circle cx="594.8" cy="137.8" r="2.35"/><circle cx="594.8" cy="160.3" r="2.35"/><circle cx="596" cy="184.6" r="2.35"/><circle cx="597.3" cy="164.4" r="2.35"/><circle cx="597.4" cy="165.2" r="2.35"/><circle cx="598.7" cy="150.6" r="2.35"/><circle cx="598.9" cy="151.2" r="2.35"/><circle cx="599.7" cy="157.5" r="2.35"/><circle cx="600.1" cy="145.1" r="2.35"/><circle cx="600.2" cy="157.8" r="2.35"/><circle cx="601.7" cy="146.7" r="2.35"/><circle cx="602.7" cy="137.8" r="2.35"/><circle cx="603.2" cy="128" r="2.35"/><circle cx="604.6" cy="129" r="2.35"/><circle cx="606.6" cy="128" r="2.35"/><circle cx="607.6" cy="139.8" r="2.35"/><circle cx="608.6" cy="127" r="2.35"/><circle cx="609.6" cy="137.8" r="2.35"/><circle cx="610.5" cy="120.1" r="2.35"/><circle cx="612.5" cy="91.5" r="2.35"/><circle cx="612.9" cy="92.2" r="2.35"/><circle cx="613.1" cy="147.7" r="2.35"/><circle cx="614.2" cy="135.1" r="2.35"/><circle cx="614.5" cy="134.9" r="2.35"/><circle cx="615.5" cy="110.2" r="2.35"/><circle cx="615.6" cy="129.7" r="2.35"/><circle cx="617.1" cy="122.4" r="2.35"/><circle cx="617.8" cy="129" r="2.35"/><circle cx="618.3" cy="118.8" r="2.35"/><circle cx="618.4" cy="118.1" r="2.35"/><circle cx="619.2" cy="132.4" r="2.35"/><circle cx="620.7" cy="117.9" r="2.35"/><circle cx="622" cy="143.3" r="2.35"/><circle cx="623.2" cy="113.9" r="2.35"/><circle cx="624.3" cy="124.3" r="2.35"/><circle cx="624.6" cy="170" r="2.35"/><circle cx="626.1" cy="129.7" r="2.35"/><circle cx="627.4" cy="133.3" r="2.35"/><circle cx="628.7" cy="112.5" r="2.35"/><circle cx="629.7" cy="105.2" r="2.35"/><circle cx="631" cy="142.4" r="2.35"/><circle cx="631.9" cy="123.3" r="2.35"/><circle cx="633.4" cy="139.6" r="2.35"/><circle cx="634.1" cy="119.4" r="2.35"/><circle cx="634.8" cy="144.2" r="2.35"/><circle cx="636.1" cy="101.6" r="2.35"/><circle cx="637.3" cy="120.6" r="2.35"/><circle cx="638.8" cy="123" r="2.35"/><circle cx="639.1" cy="134.2" r="2.35"/><circle cx="640.1" cy="128.8" r="2.35"/><circle cx="641" cy="118.8" r="2.35"/><circle cx="641.9" cy="127.9" r="2.35"/><circle cx="643.1" cy="114.3" r="2.35"/><circle cx="644.2" cy="122.4" r="2.35"/><circle cx="644.9" cy="108" r="2.35"/><circle cx="645.5" cy="134.2" r="2.35"/><circle cx="645.7" cy="107.6" r="2.35"/><circle cx="646.8" cy="122.4" r="2.35"/><circle cx="647" cy="122.1" r="2.35"/><circle cx="648.2" cy="126.1" r="2.35"/><circle cx="648.3" cy="125.4" r="2.35"/><circle cx="649.1" cy="68.1" r="2.35"/><circle cx="650" cy="164.1" r="2.35"/><circle cx="650.3" cy="120.8" r="2.35"/><circle cx="650.4" cy="121.5" r="2.35"/><circle cx="651.6" cy="143.8" r="2.35"/><circle cx="652.9" cy="132.6" r="2.35"/><circle cx="653.6" cy="125.4" r="2.35"/><circle cx="654.5" cy="135.9" r="2.35"/><circle cx="655.5" cy="111.6" r="2.35"/><circle cx="655.6" cy="127.4" r="2.35"/><circle cx="656.8" cy="135.3" r="2.35"/><circle cx="658" cy="133" r="2.35"/><circle cx="659.5" cy="129.3" r="2.35"/><circle cx="660.8" cy="134.6" r="2.35"/><circle cx="662.1" cy="141.2" r="2.35"/><circle cx="663.4" cy="133.9" r="2.35"/><circle cx="664.7" cy="110.9" r="2.35"/><circle cx="665.8" cy="133.9" r="2.35"/><circle cx="667.4" cy="133.9" r="2.35"/><circle cx="668.7" cy="127.4" r="2.35"/><circle cx="670" cy="122.1" r="2.35"/><circle cx="671.1" cy="139.5" r="2.35"/><circle cx="672" cy="124.7" r="2.35"/><circle cx="673.3" cy="120.1" r="2.35"/><circle cx="674.6" cy="124.7" r="2.35"/><circle cx="675.9" cy="128.7" r="2.35"/><circle cx="677.2" cy="120.8" r="2.35"/><circle cx="678.6" cy="128" r="2.35"/><circle cx="679.5" cy="133.9" r="2.35"/><circle cx="681.2" cy="126.1" r="2.35"/><circle cx="682.5" cy="135.3" r="2.35"/></g>
</g>
<g>
<line x1="256.23" y1="294.1" x2="256.23" y2="556.9" stroke="#0a5599" stroke-width="0.9" stroke-dasharray="1.6,1" opacity="0.8"/>
<line x1="298.63" y1="294.1" x2="298.63" y2="556.9" stroke="#fd5506" stroke-width="0.9" stroke-dasharray="1.6,1" opacity="0.8"/>
<path d="M177.35 294.1V556.9H571.75" fill="none" stroke="#000" stroke-width="1.9"/>
<line x1="172.35" y1="556.9" x2="177.35" y2="556.9" stroke="#000" stroke-width="1.6"/>
<line x1="173.85" y1="543.76" x2="177.35" y2="543.76" stroke="#000" stroke-width="1.6"/>
<line x1="173.85" y1="530.62" x2="177.35" y2="530.62" stroke="#000" stroke-width="1.6"/>
<line x1="173.85" y1="517.48" x2="177.35" y2="517.48" stroke="#000" stroke-width="1.6"/>
<line x1="173.85" y1="504.34" x2="177.35" y2="504.34" stroke="#000" stroke-width="1.6"/>
<line x1="172.35" y1="491.2" x2="177.35" y2="491.2" stroke="#000" stroke-width="1.6"/>
<line x1="173.85" y1="478.06" x2="177.35" y2="478.06" stroke="#000" stroke-width="1.6"/>
<line x1="173.85" y1="464.92" x2="177.35" y2="464.92" stroke="#000" stroke-width="1.6"/>
<line x1="173.85" y1="451.78" x2="177.35" y2="451.78" stroke="#000" stroke-width="1.6"/>
<line x1="173.85" y1="438.64" x2="177.35" y2="438.64" stroke="#000" stroke-width="1.6"/>
<line x1="172.35" y1="425.5" x2="177.35" y2="425.5" stroke="#000" stroke-width="1.6"/>
<line x1="173.85" y1="412.36" x2="177.35" y2="412.36" stroke="#000" stroke-width="1.6"/>
<line x1="173.85" y1="399.22" x2="177.35" y2="399.22" stroke="#000" stroke-width="1.6"/>
<line x1="173.85" y1="386.08" x2="177.35" y2="386.08" stroke="#000" stroke-width="1.6"/>
<line x1="173.85" y1="372.94" x2="177.35" y2="372.94" stroke="#000" stroke-width="1.6"/>
<line x1="172.35" y1="359.8" x2="177.35" y2="359.8" stroke="#000" stroke-width="1.6"/>
<line x1="173.85" y1="346.66" x2="177.35" y2="346.66" stroke="#000" stroke-width="1.6"/>
<line x1="173.85" y1="333.52" x2="177.35" y2="333.52" stroke="#000" stroke-width="1.6"/>
<line x1="173.85" y1="320.38" x2="177.35" y2="320.38" stroke="#000" stroke-width="1.6"/>
<line x1="173.85" y1="307.24" x2="177.35" y2="307.24" stroke="#000" stroke-width="1.6"/>
<line x1="172.35" y1="294.1" x2="177.35" y2="294.1" stroke="#000" stroke-width="1.6"/>
<text transform="translate(170.65,562.5) scale(1,1.04)" text-anchor="end" font-size="16.6">0</text>
<text transform="translate(170.65,496.8) scale(1,1.04)" text-anchor="end" font-size="16.6">5</text>
<text transform="translate(170.65,431.1) scale(1,1.04)" text-anchor="end" font-size="16.6">10</text>
<text transform="translate(170.65,365.4) scale(1,1.04)" text-anchor="end" font-size="16.6">15</text>
<text transform="translate(170.65,299.7) scale(1,1.04)" text-anchor="end" font-size="16.6">20</text>
<line x1="177.35" y1="556.9" x2="177.35" y2="560.5" stroke="#000" stroke-width="1.6"/>
<line x1="202" y1="556.9" x2="202" y2="562.2" stroke="#000" stroke-width="1.6"/>
<line x1="226.65" y1="556.9" x2="226.65" y2="560.5" stroke="#000" stroke-width="1.6"/>
<line x1="251.3" y1="556.9" x2="251.3" y2="562.2" stroke="#000" stroke-width="1.6"/>
<line x1="275.95" y1="556.9" x2="275.95" y2="560.5" stroke="#000" stroke-width="1.6"/>
<line x1="300.6" y1="556.9" x2="300.6" y2="562.2" stroke="#000" stroke-width="1.6"/>
<line x1="325.25" y1="556.9" x2="325.25" y2="560.5" stroke="#000" stroke-width="1.6"/>
<line x1="349.9" y1="556.9" x2="349.9" y2="562.2" stroke="#000" stroke-width="1.6"/>
<line x1="374.55" y1="556.9" x2="374.55" y2="560.5" stroke="#000" stroke-width="1.6"/>
<line x1="399.2" y1="556.9" x2="399.2" y2="562.2" stroke="#000" stroke-width="1.6"/>
<line x1="423.85" y1="556.9" x2="423.85" y2="560.5" stroke="#000" stroke-width="1.6"/>
<line x1="448.5" y1="556.9" x2="448.5" y2="562.2" stroke="#000" stroke-width="1.6"/>
<line x1="473.15" y1="556.9" x2="473.15" y2="560.5" stroke="#000" stroke-width="1.6"/>
<line x1="497.8" y1="556.9" x2="497.8" y2="562.2" stroke="#000" stroke-width="1.6"/>
<line x1="522.45" y1="556.9" x2="522.45" y2="560.5" stroke="#000" stroke-width="1.6"/>
<line x1="547.1" y1="556.9" x2="547.1" y2="562.2" stroke="#000" stroke-width="1.6"/>
<line x1="571.75" y1="556.9" x2="571.75" y2="560.5" stroke="#000" stroke-width="1.6"/>
<text transform="translate(202,580) scale(1,1.04)" text-anchor="middle" font-size="16.6">0</text>
<text transform="translate(251.3,580) scale(1,1.04)" text-anchor="middle" font-size="16.6">2</text>
<text transform="translate(300.6,580) scale(1,1.04)" text-anchor="middle" font-size="16.6">4</text>
<text transform="translate(349.9,580) scale(1,1.04)" text-anchor="middle" font-size="16.6">6</text>
<text transform="translate(399.2,580) scale(1,1.04)" text-anchor="middle" font-size="16.6">8</text>
<text transform="translate(448.5,580) scale(1,1.04)" text-anchor="middle" font-size="16.6">10</text>
<text transform="translate(497.8,580) scale(1,1.04)" text-anchor="middle" font-size="16.6">12</text>
<text transform="translate(547.1,580) scale(1,1.04)" text-anchor="middle" font-size="16.6">14</text>
<text transform="translate(374.3,603.8) scale(1,1.04)" text-anchor="middle" font-size="18.4">Time (min) since first naloxone dose</text>
<text transform="translate(143.6,419) rotate(-90) scale(1,1.04)" text-anchor="middle" font-size="18.3">Ventilation (L/min)</text>
<clipPath id="cc"><rect x="177" y="280" width="400" height="277"/></clipPath>
<g clip-path="url(#cc)">
<line x1="214.32" y1="523" x2="214.32" y2="570.04" stroke="#fd5506" stroke-width="1.5"/>
<line x1="226.65" y1="513.67" x2="226.65" y2="542.45" stroke="#fd5506" stroke-width="1.5"/>
<line x1="222.55" y1="542.45" x2="230.75" y2="542.45" stroke="#fd5506" stroke-width="1.6"/>
<line x1="238.97" y1="495.67" x2="238.97" y2="533.9" stroke="#fd5506" stroke-width="1.5"/>
<line x1="234.88" y1="533.9" x2="243.07" y2="533.9" stroke="#fd5506" stroke-width="1.6"/>
<line x1="251.3" y1="495.67" x2="251.3" y2="531.01" stroke="#fd5506" stroke-width="1.5"/>
<line x1="247.2" y1="531.01" x2="255.4" y2="531.01" stroke="#fd5506" stroke-width="1.6"/>
<line x1="263.62" y1="484.1" x2="263.62" y2="523.66" stroke="#fd5506" stroke-width="1.5"/>
<line x1="259.52" y1="523.66" x2="267.73" y2="523.66" stroke="#fd5506" stroke-width="1.6"/>
<line x1="275.95" y1="462.03" x2="275.95" y2="500.4" stroke="#fd5506" stroke-width="1.5"/>
<line x1="271.85" y1="500.4" x2="280.05" y2="500.4" stroke="#fd5506" stroke-width="1.6"/>
<line x1="288.27" y1="456.38" x2="288.27" y2="506.71" stroke="#fd5506" stroke-width="1.5"/>
<line x1="284.17" y1="506.71" x2="292.38" y2="506.71" stroke="#fd5506" stroke-width="1.6"/>
<line x1="300.6" y1="451.39" x2="300.6" y2="486.34" stroke="#fd5506" stroke-width="1.5"/>
<line x1="296.5" y1="486.34" x2="304.7" y2="486.34" stroke="#fd5506" stroke-width="1.6"/>
<line x1="312.93" y1="429.84" x2="312.93" y2="471.62" stroke="#fd5506" stroke-width="1.5"/>
<line x1="308.82" y1="471.62" x2="317.03" y2="471.62" stroke="#fd5506" stroke-width="1.6"/>
<line x1="325.25" y1="427.08" x2="325.25" y2="483.45" stroke="#fd5506" stroke-width="1.5"/>
<line x1="321.15" y1="483.45" x2="329.35" y2="483.45" stroke="#fd5506" stroke-width="1.6"/>
<line x1="337.57" y1="409.6" x2="337.57" y2="462.55" stroke="#fd5506" stroke-width="1.5"/>
<line x1="333.47" y1="462.55" x2="341.68" y2="462.55" stroke="#fd5506" stroke-width="1.6"/>
<line x1="349.9" y1="408.42" x2="349.9" y2="463.87" stroke="#fd5506" stroke-width="1.5"/>
<line x1="345.8" y1="463.87" x2="354" y2="463.87" stroke="#fd5506" stroke-width="1.6"/>
<line x1="362.23" y1="420.24" x2="362.23" y2="457.43" stroke="#fd5506" stroke-width="1.5"/>
<line x1="358.12" y1="457.43" x2="366.33" y2="457.43" stroke="#fd5506" stroke-width="1.6"/>
<line x1="374.55" y1="416.96" x2="374.55" y2="453.49" stroke="#fd5506" stroke-width="1.5"/>
<line x1="370.45" y1="453.49" x2="378.65" y2="453.49" stroke="#fd5506" stroke-width="1.6"/>
<line x1="386.88" y1="427.73" x2="386.88" y2="470.44" stroke="#fd5506" stroke-width="1.5"/>
<line x1="382.77" y1="470.44" x2="390.98" y2="470.44" stroke="#fd5506" stroke-width="1.6"/>
<line x1="399.2" y1="426.16" x2="399.2" y2="474.12" stroke="#fd5506" stroke-width="1.5"/>
<line x1="395.1" y1="474.12" x2="403.3" y2="474.12" stroke="#fd5506" stroke-width="1.6"/>
<line x1="411.52" y1="404.74" x2="411.52" y2="440.61" stroke="#fd5506" stroke-width="1.5"/>
<line x1="407.42" y1="440.61" x2="415.62" y2="440.61" stroke="#fd5506" stroke-width="1.6"/>
<line x1="423.85" y1="404.48" x2="423.85" y2="448.5" stroke="#fd5506" stroke-width="1.5"/>
<line x1="419.75" y1="448.5" x2="427.95" y2="448.5" stroke="#fd5506" stroke-width="1.6"/>
<line x1="436.17" y1="406.97" x2="436.17" y2="440.35" stroke="#fd5506" stroke-width="1.5"/>
<line x1="432.07" y1="440.35" x2="440.27" y2="440.35" stroke="#fd5506" stroke-width="1.6"/>
<line x1="448.5" y1="410.78" x2="448.5" y2="447.58" stroke="#fd5506" stroke-width="1.5"/>
<line x1="444.4" y1="447.58" x2="452.6" y2="447.58" stroke="#fd5506" stroke-width="1.6"/>
<line x1="460.82" y1="417.75" x2="460.82" y2="445.21" stroke="#fd5506" stroke-width="1.5"/>
<line x1="456.72" y1="445.21" x2="464.93" y2="445.21" stroke="#fd5506" stroke-width="1.6"/>
<line x1="473.15" y1="416.17" x2="473.15" y2="450.86" stroke="#fd5506" stroke-width="1.5"/>
<line x1="469.05" y1="450.86" x2="477.25" y2="450.86" stroke="#fd5506" stroke-width="1.6"/>
<line x1="485.47" y1="424.32" x2="485.47" y2="450.2" stroke="#fd5506" stroke-width="1.5"/>
<line x1="481.37" y1="450.2" x2="489.57" y2="450.2" stroke="#fd5506" stroke-width="1.6"/>
<line x1="497.8" y1="417.35" x2="497.8" y2="446.92" stroke="#fd5506" stroke-width="1.5"/>
<line x1="493.7" y1="446.92" x2="501.9" y2="446.92" stroke="#fd5506" stroke-width="1.6"/>
<line x1="510.12" y1="424.05" x2="510.12" y2="449.41" stroke="#fd5506" stroke-width="1.5"/>
<line x1="506.02" y1="449.41" x2="514.23" y2="449.41" stroke="#fd5506" stroke-width="1.6"/>
<line x1="522.45" y1="415.78" x2="522.45" y2="449.94" stroke="#fd5506" stroke-width="1.5"/>
<line x1="518.35" y1="449.94" x2="526.55" y2="449.94" stroke="#fd5506" stroke-width="1.6"/>
<line x1="534.77" y1="423.53" x2="534.77" y2="457.56" stroke="#fd5506" stroke-width="1.5"/>
<line x1="530.67" y1="457.56" x2="538.88" y2="457.56" stroke="#fd5506" stroke-width="1.6"/>
<line x1="547.1" y1="419.98" x2="547.1" y2="450.99" stroke="#fd5506" stroke-width="1.5"/>
<line x1="543" y1="450.99" x2="551.2" y2="450.99" stroke="#fd5506" stroke-width="1.6"/>
<line x1="559.42" y1="411.57" x2="559.42" y2="438.77" stroke="#fd5506" stroke-width="1.5"/>
<line x1="555.32" y1="438.77" x2="563.52" y2="438.77" stroke="#fd5506" stroke-width="1.6"/>
<line x1="571.75" y1="421.82" x2="571.75" y2="445.6" stroke="#fd5506" stroke-width="1.5"/>
<line x1="567.65" y1="445.6" x2="575.85" y2="445.6" stroke="#fd5506" stroke-width="1.6"/>
<polyline points="202,556.9 214.32,523 226.65,513.67 238.97,495.67 251.3,495.67 263.62,484.1 275.95,462.03 288.27,456.38 300.6,451.39 312.93,429.84 325.25,427.08 337.57,409.6 349.9,408.42 362.23,420.24 374.55,416.96 386.88,427.73 399.2,426.16 411.52,404.74 423.85,404.48 436.17,406.97 448.5,410.78 460.82,417.75 473.15,416.17 485.47,424.32 497.8,417.35 510.12,424.05 522.45,415.78 534.77,423.53 547.1,419.98 559.42,411.57 571.75,421.82" fill="none" stroke="#fd5506" stroke-width="1.5"/>
<circle cx="202" cy="556.9" r="3.6" fill="#fd5506"/>
<circle cx="214.32" cy="523" r="3.6" fill="#fd5506"/>
<circle cx="226.65" cy="513.67" r="3.6" fill="#fd5506"/>
<circle cx="238.97" cy="495.67" r="3.6" fill="#fd5506"/>
<circle cx="251.3" cy="495.67" r="3.6" fill="#fd5506"/>
<circle cx="263.62" cy="484.1" r="3.6" fill="#fd5506"/>
<circle cx="275.95" cy="462.03" r="3.6" fill="#fd5506"/>
<circle cx="288.27" cy="456.38" r="3.6" fill="#fd5506"/>
<circle cx="300.6" cy="451.39" r="3.6" fill="#fd5506"/>
<circle cx="312.93" cy="429.84" r="3.6" fill="#fd5506"/>
<circle cx="325.25" cy="427.08" r="3.6" fill="#fd5506"/>
<circle cx="337.57" cy="409.6" r="3.6" fill="#fd5506"/>
<circle cx="349.9" cy="408.42" r="3.6" fill="#fd5506"/>
<circle cx="362.23" cy="420.24" r="3.6" fill="#fd5506"/>
<circle cx="374.55" cy="416.96" r="3.6" fill="#fd5506"/>
<circle cx="386.88" cy="427.73" r="3.6" fill="#fd5506"/>
<circle cx="399.2" cy="426.16" r="3.6" fill="#fd5506"/>
<circle cx="411.52" cy="404.74" r="3.6" fill="#fd5506"/>
<circle cx="423.85" cy="404.48" r="3.6" fill="#fd5506"/>
<circle cx="436.17" cy="406.97" r="3.6" fill="#fd5506"/>
<circle cx="448.5" cy="410.78" r="3.6" fill="#fd5506"/>
<circle cx="460.82" cy="417.75" r="3.6" fill="#fd5506"/>
<circle cx="473.15" cy="416.17" r="3.6" fill="#fd5506"/>
<circle cx="485.47" cy="424.32" r="3.6" fill="#fd5506"/>
<circle cx="497.8" cy="417.35" r="3.6" fill="#fd5506"/>
<circle cx="510.12" cy="424.05" r="3.6" fill="#fd5506"/>
<circle cx="522.45" cy="415.78" r="3.6" fill="#fd5506"/>
<circle cx="534.77" cy="423.53" r="3.6" fill="#fd5506"/>
<circle cx="547.1" cy="419.98" r="3.6" fill="#fd5506"/>
<circle cx="559.42" cy="411.57" r="3.6" fill="#fd5506"/>
<circle cx="571.75" cy="421.82" r="3.6" fill="#fd5506"/>
</g>
<line x1="214.32" y1="475.17" x2="214.32" y2="413.81" stroke="#0a5599" stroke-width="1.5"/>
<line x1="210.22" y1="413.81" x2="218.42" y2="413.81" stroke="#0a5599" stroke-width="1.6"/>
<line x1="226.65" y1="500" x2="226.65" y2="457.3" stroke="#0a5599" stroke-width="1.5"/>
<line x1="222.55" y1="457.3" x2="230.75" y2="457.3" stroke="#0a5599" stroke-width="1.6"/>
<line x1="238.97" y1="467.94" x2="238.97" y2="406.58" stroke="#0a5599" stroke-width="1.5"/>
<line x1="234.88" y1="406.58" x2="243.07" y2="406.58" stroke="#0a5599" stroke-width="1.6"/>
<line x1="251.3" y1="465.05" x2="251.3" y2="408.81" stroke="#0a5599" stroke-width="1.5"/>
<line x1="247.2" y1="408.81" x2="255.4" y2="408.81" stroke="#0a5599" stroke-width="1.6"/>
<line x1="263.62" y1="419.19" x2="263.62" y2="373.2" stroke="#0a5599" stroke-width="1.5"/>
<line x1="259.52" y1="373.2" x2="267.73" y2="373.2" stroke="#0a5599" stroke-width="1.6"/>
<line x1="275.95" y1="384.77" x2="275.95" y2="332.07" stroke="#0a5599" stroke-width="1.5"/>
<line x1="271.85" y1="332.07" x2="280.05" y2="332.07" stroke="#0a5599" stroke-width="1.6"/>
<line x1="288.27" y1="377.67" x2="288.27" y2="319.85" stroke="#0a5599" stroke-width="1.5"/>
<line x1="284.17" y1="319.85" x2="292.38" y2="319.85" stroke="#0a5599" stroke-width="1.6"/>
<line x1="300.6" y1="370.97" x2="300.6" y2="315.78" stroke="#0a5599" stroke-width="1.5"/>
<line x1="296.5" y1="315.78" x2="304.7" y2="315.78" stroke="#0a5599" stroke-width="1.6"/>
<line x1="312.93" y1="373.73" x2="312.93" y2="340.88" stroke="#0a5599" stroke-width="1.5"/>
<line x1="308.82" y1="340.88" x2="317.03" y2="340.88" stroke="#0a5599" stroke-width="1.6"/>
<line x1="325.25" y1="356.65" x2="325.25" y2="320.77" stroke="#0a5599" stroke-width="1.5"/>
<line x1="321.15" y1="320.77" x2="329.35" y2="320.77" stroke="#0a5599" stroke-width="1.6"/>
<line x1="337.57" y1="387.92" x2="337.57" y2="352.7" stroke="#0a5599" stroke-width="1.5"/>
<line x1="333.47" y1="352.7" x2="341.68" y2="352.7" stroke="#0a5599" stroke-width="1.6"/>
<line x1="349.9" y1="388.31" x2="349.9" y2="349.68" stroke="#0a5599" stroke-width="1.5"/>
<line x1="345.8" y1="349.68" x2="354" y2="349.68" stroke="#0a5599" stroke-width="1.6"/>
<line x1="362.23" y1="390.55" x2="362.23" y2="362.69" stroke="#0a5599" stroke-width="1.5"/>
<line x1="358.12" y1="362.69" x2="366.33" y2="362.69" stroke="#0a5599" stroke-width="1.6"/>
<line x1="374.55" y1="381.22" x2="374.55" y2="345.61" stroke="#0a5599" stroke-width="1.5"/>
<line x1="370.45" y1="345.61" x2="378.65" y2="345.61" stroke="#0a5599" stroke-width="1.6"/>
<line x1="386.88" y1="404.21" x2="386.88" y2="364.66" stroke="#0a5599" stroke-width="1.5"/>
<line x1="382.77" y1="364.66" x2="390.98" y2="364.66" stroke="#0a5599" stroke-width="1.6"/>
<line x1="399.2" y1="392.65" x2="399.2" y2="363.48" stroke="#0a5599" stroke-width="1.5"/>
<line x1="395.1" y1="363.48" x2="403.3" y2="363.48" stroke="#0a5599" stroke-width="1.6"/>
<line x1="411.52" y1="409.6" x2="411.52" y2="384.5" stroke="#0a5599" stroke-width="1.5"/>
<line x1="407.42" y1="384.5" x2="415.62" y2="384.5" stroke="#0a5599" stroke-width="1.6"/>
<line x1="423.85" y1="391.34" x2="423.85" y2="369.79" stroke="#0a5599" stroke-width="1.5"/>
<line x1="419.75" y1="369.79" x2="427.95" y2="369.79" stroke="#0a5599" stroke-width="1.6"/>
<line x1="436.17" y1="402.24" x2="436.17" y2="375.83" stroke="#0a5599" stroke-width="1.5"/>
<line x1="432.07" y1="375.83" x2="440.27" y2="375.83" stroke="#0a5599" stroke-width="1.6"/>
<line x1="448.5" y1="411.97" x2="448.5" y2="383.98" stroke="#0a5599" stroke-width="1.5"/>
<line x1="444.4" y1="383.98" x2="452.6" y2="383.98" stroke="#0a5599" stroke-width="1.6"/>
<line x1="460.82" y1="412.36" x2="460.82" y2="390.55" stroke="#0a5599" stroke-width="1.5"/>
<line x1="456.72" y1="390.55" x2="464.93" y2="390.55" stroke="#0a5599" stroke-width="1.6"/>
<line x1="473.15" y1="401.72" x2="473.15" y2="374.78" stroke="#0a5599" stroke-width="1.5"/>
<line x1="469.05" y1="374.78" x2="477.25" y2="374.78" stroke="#0a5599" stroke-width="1.6"/>
<line x1="485.47" y1="418.67" x2="485.47" y2="394.49" stroke="#0a5599" stroke-width="1.5"/>
<line x1="481.37" y1="394.49" x2="489.57" y2="394.49" stroke="#0a5599" stroke-width="1.6"/>
<line x1="497.8" y1="411.57" x2="497.8" y2="383.58" stroke="#0a5599" stroke-width="1.5"/>
<line x1="493.7" y1="383.58" x2="501.9" y2="383.58" stroke="#0a5599" stroke-width="1.6"/>
<line x1="510.12" y1="417.22" x2="510.12" y2="393.7" stroke="#0a5599" stroke-width="1.5"/>
<line x1="506.02" y1="393.7" x2="514.23" y2="393.7" stroke="#0a5599" stroke-width="1.6"/>
<line x1="522.45" y1="405.79" x2="522.45" y2="381.74" stroke="#0a5599" stroke-width="1.5"/>
<line x1="518.35" y1="381.74" x2="526.55" y2="381.74" stroke="#0a5599" stroke-width="1.6"/>
<line x1="534.77" y1="423.27" x2="534.77" y2="380.82" stroke="#0a5599" stroke-width="1.5"/>
<line x1="530.67" y1="380.82" x2="538.88" y2="380.82" stroke="#0a5599" stroke-width="1.6"/>
<line x1="547.1" y1="424.84" x2="547.1" y2="387.92" stroke="#0a5599" stroke-width="1.5"/>
<line x1="543" y1="387.92" x2="551.2" y2="387.92" stroke="#0a5599" stroke-width="1.6"/>
<line x1="559.42" y1="416.17" x2="559.42" y2="391.47" stroke="#0a5599" stroke-width="1.5"/>
<line x1="555.32" y1="391.47" x2="563.52" y2="391.47" stroke="#0a5599" stroke-width="1.6"/>
<line x1="571.75" y1="417.75" x2="571.75" y2="390.15" stroke="#0a5599" stroke-width="1.5"/>
<line x1="567.65" y1="390.15" x2="575.85" y2="390.15" stroke="#0a5599" stroke-width="1.6"/>
<polyline points="202,556.9 214.32,475.17 226.65,500 238.97,467.94 251.3,465.05 263.62,419.19 275.95,384.77 288.27,377.67 300.6,370.97 312.93,373.73 325.25,356.65 337.57,387.92 349.9,388.31 362.23,390.55 374.55,381.22 386.88,404.21 399.2,392.65 411.52,409.6 423.85,391.34 436.17,402.24 448.5,411.97 460.82,412.36 473.15,401.72 485.47,418.67 497.8,411.57 510.12,417.22 522.45,405.79 534.77,423.27 547.1,424.84 559.42,416.17 571.75,417.75" fill="none" stroke="#0a5599" stroke-width="1.5"/>
<circle cx="202" cy="556.9" r="3.6" fill="#0a5599"/>
<circle cx="214.32" cy="475.17" r="3.6" fill="#0a5599"/>
<circle cx="226.65" cy="500" r="3.6" fill="#0a5599"/>
<circle cx="238.97" cy="467.94" r="3.6" fill="#0a5599"/>
<circle cx="251.3" cy="465.05" r="3.6" fill="#0a5599"/>
<circle cx="263.62" cy="419.19" r="3.6" fill="#0a5599"/>
<circle cx="275.95" cy="384.77" r="3.6" fill="#0a5599"/>
<circle cx="288.27" cy="377.67" r="3.6" fill="#0a5599"/>
<circle cx="300.6" cy="370.97" r="3.6" fill="#0a5599"/>
<circle cx="312.93" cy="373.73" r="3.6" fill="#0a5599"/>
<circle cx="325.25" cy="356.65" r="3.6" fill="#0a5599"/>
<circle cx="337.57" cy="387.92" r="3.6" fill="#0a5599"/>
<circle cx="349.9" cy="388.31" r="3.6" fill="#0a5599"/>
<circle cx="362.23" cy="390.55" r="3.6" fill="#0a5599"/>
<circle cx="374.55" cy="381.22" r="3.6" fill="#0a5599"/>
<circle cx="386.88" cy="404.21" r="3.6" fill="#0a5599"/>
<circle cx="399.2" cy="392.65" r="3.6" fill="#0a5599"/>
<circle cx="411.52" cy="409.6" r="3.6" fill="#0a5599"/>
<circle cx="423.85" cy="391.34" r="3.6" fill="#0a5599"/>
<circle cx="436.17" cy="402.24" r="3.6" fill="#0a5599"/>
<circle cx="448.5" cy="411.97" r="3.6" fill="#0a5599"/>
<circle cx="460.82" cy="412.36" r="3.6" fill="#0a5599"/>
<circle cx="473.15" cy="401.72" r="3.6" fill="#0a5599"/>
<circle cx="485.47" cy="418.67" r="3.6" fill="#0a5599"/>
<circle cx="497.8" cy="411.57" r="3.6" fill="#0a5599"/>
<circle cx="510.12" cy="417.22" r="3.6" fill="#0a5599"/>
<circle cx="522.45" cy="405.79" r="3.6" fill="#0a5599"/>
<circle cx="534.77" cy="423.27" r="3.6" fill="#0a5599"/>
<circle cx="547.1" cy="424.84" r="3.6" fill="#0a5599"/>
<circle cx="559.42" cy="416.17" r="3.6" fill="#0a5599"/>
<circle cx="571.75" cy="417.75" r="3.6" fill="#0a5599"/>
<line x1="517.8" y1="495.6" x2="530.1" y2="495.6" stroke="#0a5599" stroke-width="1.5"/><circle cx="523.9" cy="495.6" r="3.8" fill="#0a5599"/>
<line x1="517.8" y1="519.1" x2="530.1" y2="519.1" stroke="#fd5506" stroke-width="1.5"/><circle cx="523.9" cy="519.1" r="3.8" fill="#fd5506"/>
<text transform="translate(536.2,500.3) scale(1,1.04)" font-size="14.9">IM</text>
<text transform="translate(536.2,523.8) scale(1,1.04)" font-size="14.9">IN</text>
</g>
</svg>
</body></html>
